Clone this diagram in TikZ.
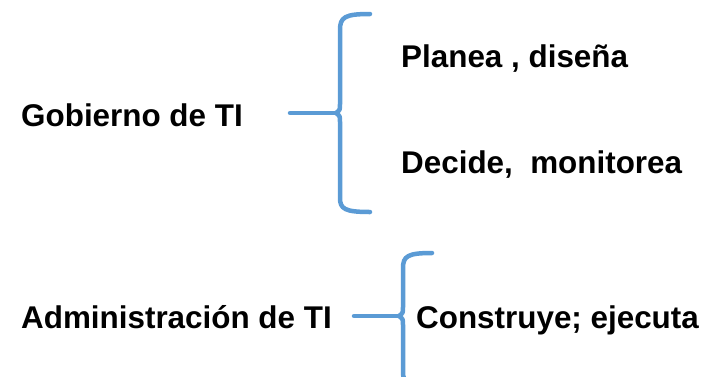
\documentclass[tikz,border=0pt]{standalone}
\usepackage{fontspec}
\setmainfont{Liberation Sans}
\usepackage{xcolor}
\definecolor{bracelinie}{HTML}{5B9BD5}
\definecolor{textdark}{HTML}{000000}
\usetikzlibrary{positioning}

\tikzset{
  label/.style={inner sep=0pt, anchor=base west, text=textdark, font=\fontsize{31.4}{37}\selectfont\bfseries},
  brace/.style={bracelinie, line width=4.5pt, line cap=round, line join=round},
}

\begin{document}
\begin{tikzpicture}[x=1pt, y=-1pt]
        \useasboundingbox (0,0) rectangle (717,376);
        % Gobierno
        \node[label] (gob) at (21,126) {Gobierno de TI};
        \node[label] (plan) at (401,67) {Planea , diseña};
        \node[label] (deci) at (401,173) {Decide,\ \ monitorea};
        \coordinate (tipA) at (336,113);
        \coordinate (stemA) at (290,113);
        \draw[brace] (370,14) .. controls (345,14) and (340,17) .. (340,30)
          -- (340,104) .. controls (340,110) .. (tipA)
          .. controls (340,116) .. (340,122) -- (340,198)
          .. controls (340,209) and (345,212) .. (370,212);
        \draw[brace] (stemA) -- (322,113) .. controls (330,113) .. (tipA);

        % Administracion
        \node[label] (adm) at (21,328) {Administración de TI};
        \node[label] (cons) at (416,328) {Construye; ejecuta};
        \coordinate (tipB) at (399,316);
        \coordinate (stemB) at (354,316);
        \draw[brace] (432,253) .. controls (408,253) and (403,256) .. (403,268)
          -- (403,307) .. controls (403,313) .. (tipB)
          .. controls (403,319) .. (403,325) -- (403,372)
          .. controls (403,383) and (408,386) .. (432,386);
        \draw[brace] (stemB) -- (386,316) .. controls (394,316) .. (tipB);
      \end{tikzpicture}
\end{document}
